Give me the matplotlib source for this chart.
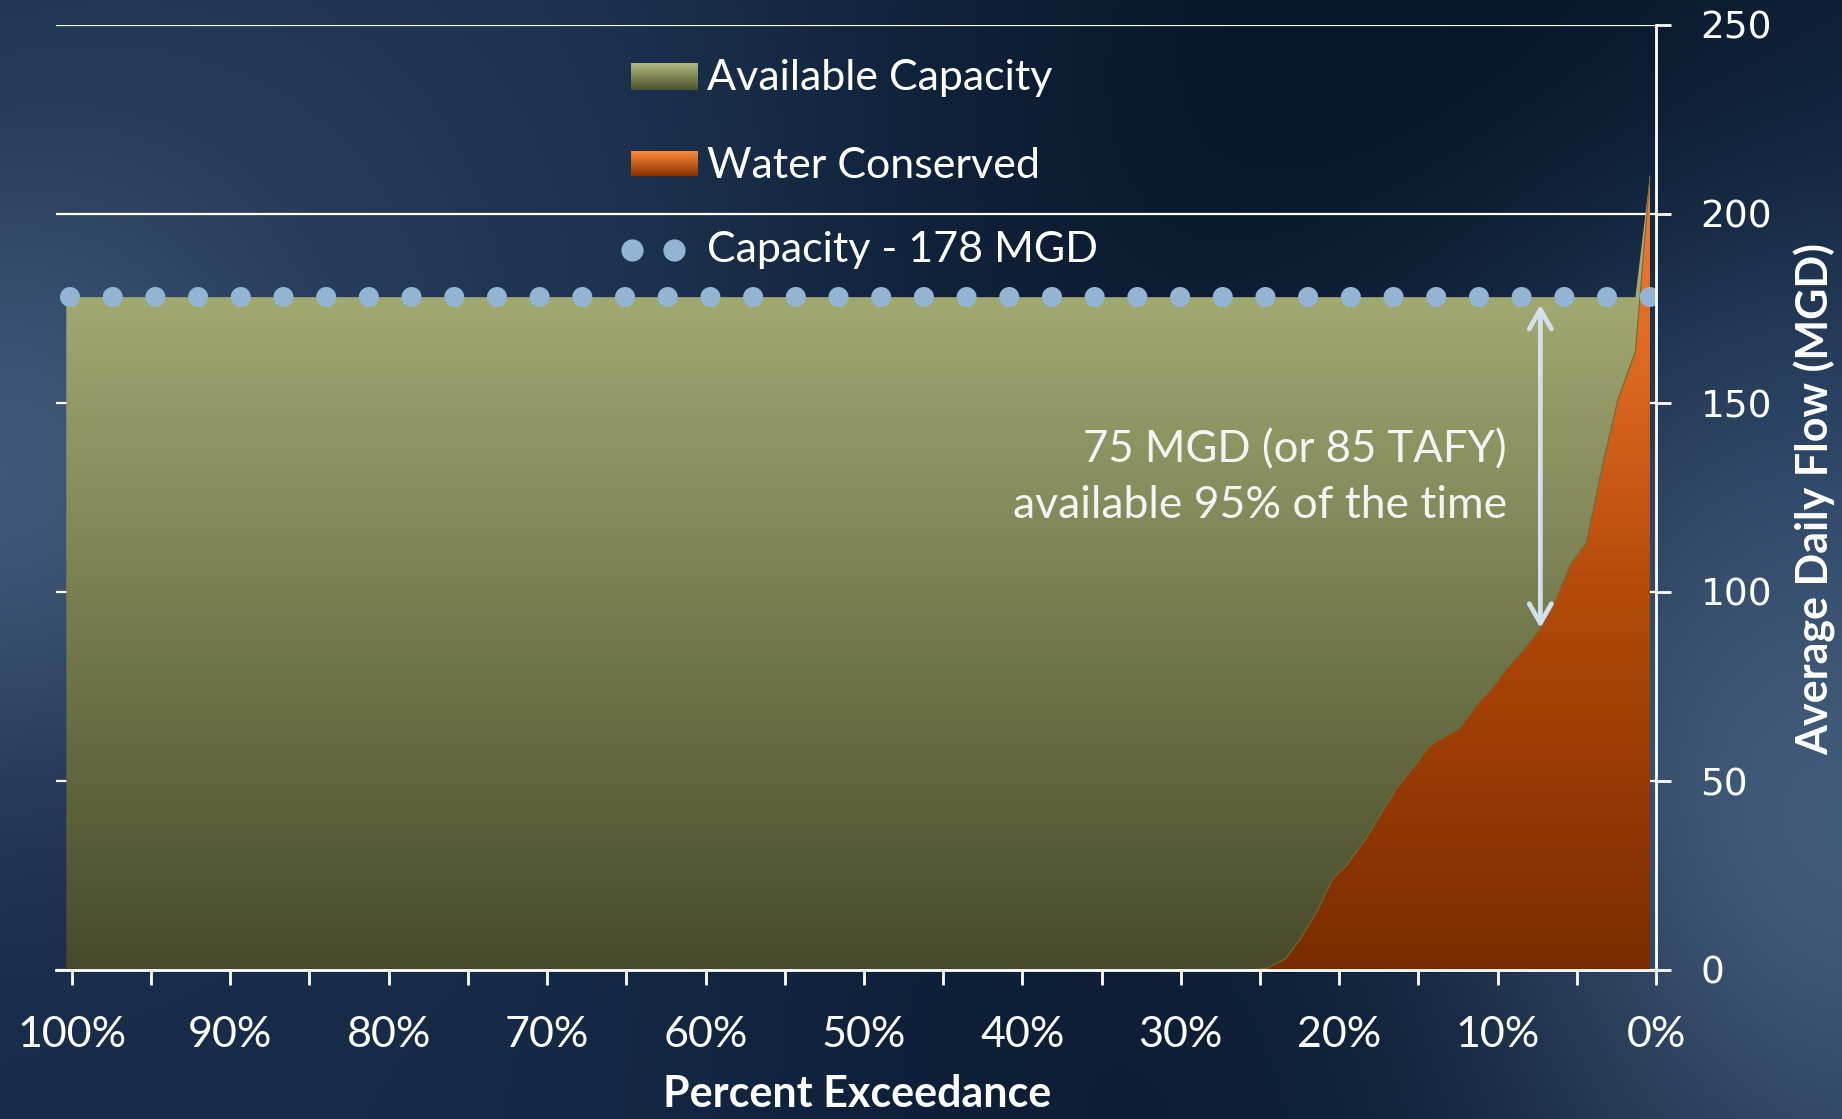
import matplotlib.pyplot as plt
import numpy as np
from matplotlib import font_manager
from matplotlib.colors import LinearSegmentedColormap, to_rgb

# Percent exceedance (%) and water conserved (MGD)
exceed_pct = [100.35, 25.6, 24.6, 23.4, 22.5, 21.4, 20.4, 19.5, 18.3, 16.4,
              15.3, 14.3, 13.6, 12.4, 11.3, 10.3, 9.4, 8.4, 7.3, 6.4,
              5.4, 4.4, 3.4, 2.4, 1.3, 0.38]
water_conserved = [0, 0, 0.4, 2.9, 7.9, 15.4, 24.2, 27.9, 34.8, 47.9,
                   53.6, 59.2, 61.1, 63.9, 70.2, 74.8, 79.8, 84.4, 90.4, 97.3,
                   107.3, 113, 133, 151, 163.6, 210]
capacity = 178

x_ticks = [100, 90, 80, 70, 60, 50, 40, 30, 20, 10, 0]
x_tick_labels = ['100%', '90%', '80%', '70%', '60%', '50%', '40%', '30%', '20%', '10%', '0%']
y_ticks = [0, 50, 100, 150, 200, 250]

legend_labels = ['Available Capacity', 'Water Conserved', 'Capacity - 178 MGD']
note_lines = ['75 MGD (or 85 TAFY)', 'available 95% of the time']
note_arrow = (7.3, 176, 90.5)   # x, top, bottom


def has_font(name, weight='normal'):
    try:
        font_manager.findfont(font_manager.FontProperties(family=name, weight=weight),
                              fallback_to_default=False)
        return True
    except ValueError:
        return False


if has_font('Liberation Sans Narrow'):
    cond_font, tick_size, title_size = 'Liberation Sans Narrow', 34, 35
else:
    cond_font, tick_size, title_size = 'Lato', 31, 31
text_font = 'Lato'

W, H = 1842, 1119
fig = plt.figure(figsize=(W / 100, H / 100), dpi=100)

# ---- textured blue background
bg = fig.add_axes([0, 0, 1, 1], zorder=-5)
bg.set_axis_off()
yy, xx = np.mgrid[0:H:4, 0:W:4].astype(float)
img = np.ones(xx.shape + (3,)) * np.array(to_rgb('#172c4a'))
blobs = [
    (250, 60, 380, '#1f3654', 0.6),
    (30, 480, 230, '#4a6282', 0.9),
    (620, 320, 330, '#2a4464', 0.6),
    (1450, 150, 480, '#051225', 0.95),
    (1250, 650, 300, '#0d1f38', 0.5),
    (1820, 480, 240, '#29456a', 0.6),
    (1760, 860, 300, '#506d8c', 0.9),
    (1150, 1119, 380, '#0b1b32', 0.85),
    (300, 1119, 300, '#142b48', 0.6),
]
for cx, cy, r, col, a in blobs:
    w = a * np.exp(-((xx - cx) ** 2 + (yy - cy) ** 2) / (2 * r ** 2))
    img = img * (1 - w[..., None]) + np.array(to_rgb(col)) * w[..., None]
bg.imshow(img, extent=[0, W, H, 0], aspect='auto', interpolation='bicubic')
bg.set_xlim(0, W)
bg.set_ylim(H, 0)

# ---- main axes
ax = fig.add_axes([56 / W, 1 - 970 / H, 1600 / W, 945 / H])
ax.patch.set_alpha(0)

conserved = np.array(water_conserved)
available = np.clip(capacity - conserved, 0, None)
top = conserved + available

green_cmap = LinearSegmentedColormap.from_list(
    'g', [(0, '#474b2b'), (0.848, '#a1a870'), (1, '#abb27a')])
orange_cmap = LinearSegmentedColormap.from_list(
    'o', [(0, '#7a2c00'), (0.45, '#b04808'), (0.78, '#e06a22'), (1, '#f27c32')])


def gradient_area(x, lo, hi, cmap, z):
    poly = ax.fill_between(x, lo, hi, facecolor='none', edgecolor='none')
    grad = np.linspace(0, 1, 256).reshape(-1, 1)
    im = ax.imshow(grad, cmap=cmap, origin='lower', aspect='auto',
                   extent=[101, 0, 0, 210], zorder=z, interpolation='bicubic')
    im.set_clip_path(poly.get_paths()[0], transform=ax.transData)


gradient_area(exceed_pct, conserved, top, green_cmap, 1)
gradient_area(exceed_pct, 0, conserved, orange_cmap, 1.2)
ax.plot(exceed_pct, conserved, color='#6b6f3c', lw=0.8, zorder=1.3)

# capacity line drawn as round dots
ax.plot([100.1, 0.2], [capacity, capacity], color='#94b4d4', lw=14.5,
        dashes=(0.001, 2.119), dash_capstyle='round', zorder=3)

# annotation arrow and text
ax.annotate('', xy=(note_arrow[0], note_arrow[2]), xytext=(note_arrow[0], note_arrow[1]),
            arrowprops=dict(arrowstyle='<->,head_length=0.7,head_width=0.4',
                            color='#d3e1ee', lw=3.4, shrinkA=0, shrinkB=0,
                            mutation_scale=20),
            zorder=4)
ax.text(9.4, 134.2, note_lines[0], ha='right', va='baseline', color='#f4f4f4',
        fontsize=31.5, family=text_font, zorder=4)
ax.text(9.4, 119.5, note_lines[1], ha='right', va='baseline', color='#f4f4f4',
        fontsize=32, family=text_font, zorder=4)

ax.set_xlim(101, 0)
ax.set_ylim(0, 250)
ax.set_yticks(y_ticks)
ax.yaxis.tick_right()
ax.set_xticks(x_ticks)
ax.set_xticklabels(x_tick_labels)
ax.set_xticks(np.arange(95, 0, -10), minor=True)
ax.yaxis.grid(True, color='white', lw=1.6)
ax.set_axisbelow(True)
for s in ['left', 'top']:
    ax.spines[s].set_visible(False)
for s in ['right', 'bottom']:
    ax.spines[s].set_color('white')
    ax.spines[s].set_linewidth(2)
    ax.spines[s].set_zorder(5)
ax.tick_params(axis='x', which='both', direction='out', length=11, width=2,
               colors='white', pad=22)
ax.tick_params(axis='y', direction='out', length=11, width=2, colors='white', pad=21)
for lab in ax.get_xticklabels():
    lab.set_family(cond_font)
    lab.set_fontsize(tick_size)
for lab in ax.get_yticklabels():
    lab.set_family('DejaVu Sans')
    lab.set_fontsize(27)

# ---- overlay for legend and axis titles (pixel coordinates)
ov = fig.add_axes([0, 0, 1, 1], zorder=10)
ov.set_axis_off()
ov.patch.set_alpha(0)

grad = np.linspace(1, 0, 64).reshape(-1, 1)
ov.imshow(grad, cmap=LinearSegmentedColormap.from_list('lg', ['#4d532f', '#b2ba7e']),
          extent=[631, 698, 90, 63], aspect='auto')
ov.imshow(grad, cmap=LinearSegmentedColormap.from_list('lo', ['#8a3200', '#ff8a3a']),
          extent=[631, 698, 176, 151], aspect='auto')
ov.plot([632, 674], [250, 250], 'o', ms=16, color='#94b4d4', mec='none')
for lab, yb in zip(legend_labels, [90, 178, 262]):
    ov.text(707, yb, lab, color='white', fontsize=31, family=text_font, va='baseline')

ov.text(857, 1094, 'Percent Exceedance', color='white', fontsize=title_size,
        family=cond_font, weight='bold', ha='center', va='center')
ov.text(1815, 499, 'Average Daily Flow (MGD)', color='white', fontsize=title_size,
        family=cond_font, weight='bold', ha='center', va='center', rotation=90)
ov.set_xlim(0, W)
ov.set_ylim(H, 0)

fig.savefig('out.png', dpi=100)
